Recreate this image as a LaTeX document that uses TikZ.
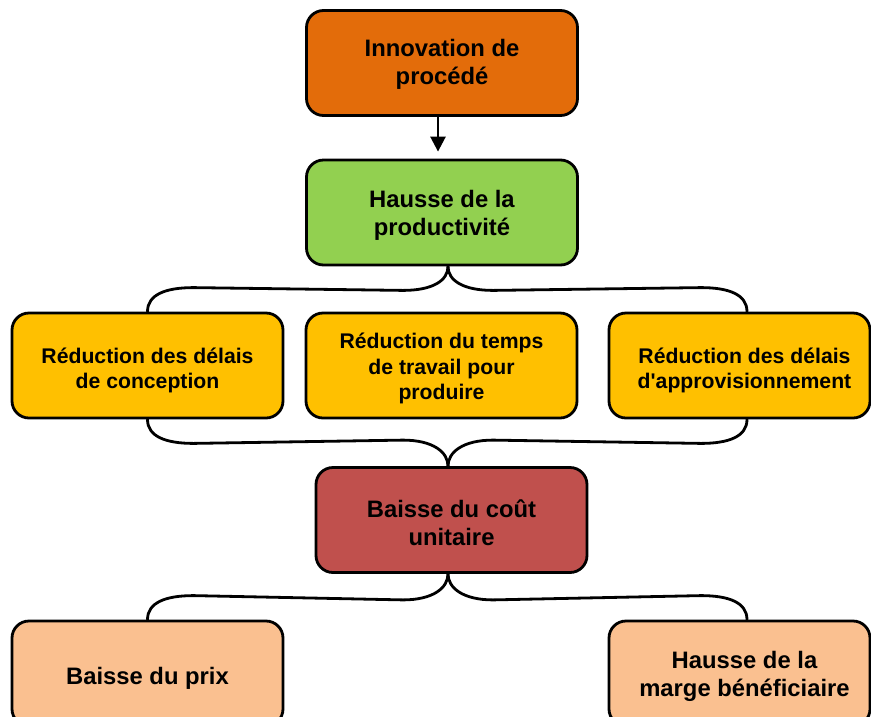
\documentclass[tikz,border=0pt]{standalone}
\usepackage{fontspec}
\setmainfont{Liberation Sans}
\usetikzlibrary{calc,arrows.meta}

\definecolor{cOrange}{HTML}{E36C0A}
\definecolor{cGreen}{HTML}{92D050}
\definecolor{cYellow}{HTML}{FFC000}
\definecolor{cRed}{HTML}{C0504D}
\definecolor{cPeach}{HTML}{FAC090}

\tikzset{
  box/.style={draw=black, line width=2.8pt, rounded corners=17pt,
    minimum width=271pt, minimum height=105pt, inner sep=0pt},
  bigtext/.style={align=center, inner sep=0pt,
    font=\bfseries\fontsize{23.8}{28}\selectfont},
  smalltext/.style={align=center, inner sep=0pt,
    font=\bfseries\fontsize{21.2}{25.5}\selectfont},
  brace/.style={draw=black, line width=2.8pt, line cap=round},
  flow/.style={draw=black, line width=2.6pt,
    -{Triangle[width=15pt,length=15pt]}}
}

\begin{document}
\begin{tikzpicture}[x=1pt,y=-1pt]
\useasboundingbox (0,0) rectangle (871,716);

% main chain
\node[box, fill=cOrange, label={[bigtext, yshift=-1pt]center:Innovation de\\procédé}]
  (innov) at (442,63) {};
\node[box, fill=cGreen, label={[bigtext, yshift=-3pt]center:Hausse de la\\productivité}]
  (prod) at (442,212.5) {};

% three consequences of higher productivity
\node[box, fill=cYellow, label={[smalltext, yshift=-5pt]center:Réduction des délais\\de conception}]
  (conc) at (147.5,365.5) {};
\node[box, fill=cYellow, label={[smalltext, yshift=-3pt]center:Réduction du temps\\de travail pour\\produire}]
  (temps) at (441.5,365.5) {};
\node[box, fill=cYellow, minimum width=261pt,
  label={[smalltext, yshift=-5pt, xshift=5pt]center:Réduction des délais\\d\textquotesingle approvisionnement}]
  (appro) at (739.5,365.5) {};

\node[box, fill=cRed, label={[bigtext, yshift=-3pt]center:Baisse du coût\\unitaire}]
  (cout) at (451.5,520) {};

% outcomes
\node[box, fill=cPeach, label={[bigtext, yshift=-5pt]center:Baisse du prix}]
  (prix) at (147.5,673.5) {};
\node[box, fill=cPeach, minimum width=261pt,
  label={[bigtext, yshift=-3pt, xshift=5pt]center:Hausse de la\\marge bénéficiaire}]
  (marge) at (739.5,673.5) {};

% arrow
\draw[flow, shorten >=7pt] ($(innov.south)+(-4,0)$) -- ($(prod.north)+(-4,0)$);

% brace: productivity -> three boxes
\coordinate (t1) at ($(prod.south)+(6,0)$);
\coordinate (r1) at ($(appro.north)+(7.5,0)$);
\draw[brace] (conc.north) .. controls +(0,-17) and +(-28,0) .. ++(46,-24)
  -- ($(t1)+(-45,24)$) .. controls +(30,0) and +(0,14) .. (t1);
\draw[brace] (r1) .. controls +(0,-17) and +(28,0) .. ++(-46,-24)
  -- ($(t1)+(45,24)$) .. controls +(-30,0) and +(0,14) .. (t1);

% brace: three boxes -> unit cost
\coordinate (t2) at ($(cout.north)+(-3.5,0)$);
\coordinate (r2) at ($(appro.south)+(7.5,0)$);
\draw[brace] (conc.south) .. controls +(0,17) and +(-28,0) .. ++(46,24)
  -- ($(t2)+(-45,-26)$) .. controls +(30,0) and +(0,-14) .. (t2);
\draw[brace] (r2) .. controls +(0,17) and +(28,0) .. ++(-46,24)
  -- ($(t2)+(45,-26)$) .. controls +(-30,0) and +(0,-14) .. (t2);

% brace: unit cost -> outcomes
\coordinate (t3) at ($(cout.south)+(-3.5,0)$);
\coordinate (r3) at ($(marge.north)+(7.5,0)$);
\draw[brace] (prix.north) .. controls +(0,-17) and +(-28,0) .. ++(46,-24)
  -- ($(t3)+(-45,26)$) .. controls +(30,0) and +(0,14) .. (t3);
\draw[brace] (r3) .. controls +(0,-17) and +(28,0) .. ++(-46,-24)
  -- ($(t3)+(45,26)$) .. controls +(-30,0) and +(0,14) .. (t3);
\end{tikzpicture}
\end{document}
